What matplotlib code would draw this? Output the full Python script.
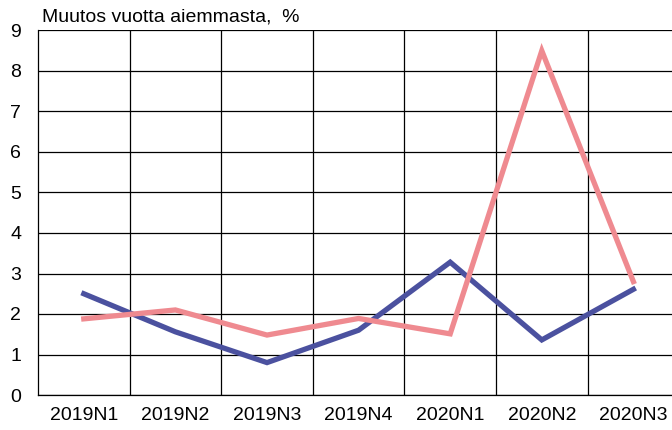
import matplotlib
matplotlib.use("Agg")
import matplotlib.pyplot as plt

plt.rcParams['font.family'] = ['Liberation Sans', 'DejaVu Sans']

quarters = ["2019N1", "2019N2", "2019N3", "2019N4", "2020N1", "2020N2", "2020N3"]
blue_values = [2.5, 1.56, 0.8, 1.6, 3.28, 1.36, 2.61]
pink_values = [1.88, 2.1, 1.48, 1.89, 1.51, 8.5, 2.8]
y_ticks = list(range(0, 10))

fig = plt.figure(figsize=(6.72, 4.30), dpi=100)
ax = fig.add_axes([38 / 672, 35 / 430, 7 * 91.6 / 672, 364.5 / 430])

x = list(range(len(quarters)))
ax.plot(x, blue_values, color="#4b519f", linewidth=3.8, solid_joinstyle="miter", zorder=3)
ax.plot(x, pink_values, color="#ef8a90", linewidth=3.8, solid_joinstyle="miter", zorder=3)

ax.set_xlim(-0.5, len(quarters) - 0.5)
ax.set_ylim(0, 9)
ax.set_yticks(y_ticks)
ax.set_xticks(x)
ax.set_xticklabels(quarters)
ax.set_xticks([i + 0.5 for i in x[:-1]], minor=True)

ax.grid(axis="y", which="major", color="black", linewidth=0.9)
ax.grid(axis="x", which="minor", color="black", linewidth=0.9)
ax.tick_params(which="both", length=0, labelsize=14)
ax.tick_params(axis="x", pad=9)
ax.tick_params(axis="y", pad=12)
for side in ["top", "right"]:
    ax.spines[side].set_visible(False)
for side in ["left", "bottom"]:
    ax.spines[side].set_linewidth(0.9)

fig.text(42 / 672, 1 - 17 / 430, "Muutos vuotta aiemmasta,  %", fontsize=14, va="center", ha="left")

fig.savefig("out.png", dpi=100)
